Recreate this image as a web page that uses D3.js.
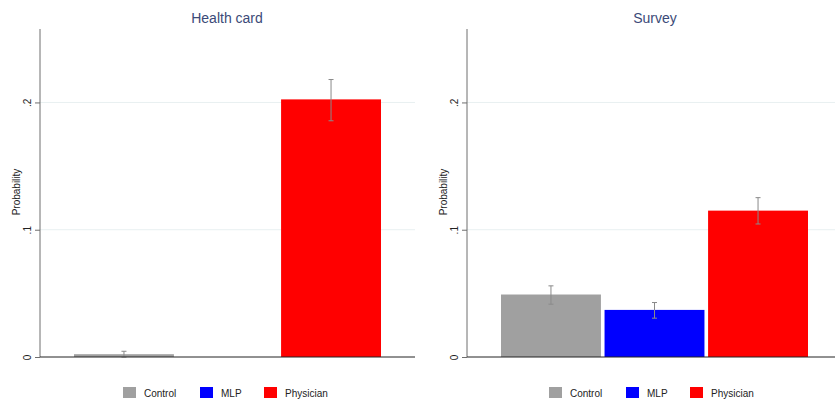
<!DOCTYPE html>
<html><head><meta charset="utf-8">
<script src="https://cdn.jsdelivr.net/npm/d3@7"></script>
<style>body{margin:0;background:#fff}svg{display:block}text{font-family:"Liberation Sans",Arial,sans-serif}</style>
</head><body><svg id="c" width="835" height="401"></svg>
<script>
const panels = ["Health card", "Survey"];
const groups = ["Control", "MLP", "Physician"];
const colors = ["#a0a0a0", "#0000ff", "#ff0000"];
// values per panel (null = not shown)
const healthValues = [0.0022, null, 0.2024];
const healthLow = [0.0, null, 0.1856];
const healthHigh = [0.0045, null, 0.2180];
const surveyValues = [0.0491, 0.0370, 0.1150];
const surveyLow = [0.0415, 0.0305, 0.1045];
const surveyHigh = [0.0559, 0.0428, 0.1252];
const yTicks = [0, 0.1, 0.2];
const yTickLabels = ["0", ".1", ".2"];

const svg = d3.select("#c");
const y = d3.scaleLinear().domain([0, 0.2577]).range([357, 29]);
const panelX = [40, 467];
const panelW = [375, 368];
const data = [
  {v: healthValues, lo: healthLow, hi: healthHigh},
  {v: surveyValues, lo: surveyLow, hi: surveyHigh}
];

panels.forEach((title, pi) => {
  const x0 = panelX[pi];
  const g = svg.append("g").attr("transform", `translate(${x0},0)`);
  const x = d3.scaleBand().domain(groups).range([34, 341]).paddingInner(0.035).paddingOuter(0);
  // gridlines
  g.selectAll("line.grid").data(yTicks.slice(1)).join("line")
    .attr("x1", 0).attr("x2", panelW[pi]).attr("y1", d => y(d)).attr("y2", d => y(d))
    .attr("stroke", "#e8f0f1").attr("stroke-width", 1);
  // bars
  const d = data[pi];
  const rows = groups.map((k, i) => ({k, i, v: d.v[i], lo: d.lo[i], hi: d.hi[i]})).filter(r => r.v != null);
  g.selectAll("rect.bar").data(rows).join("rect")
    .attr("x", r => x(r.k)).attr("width", x.bandwidth())
    .attr("y", r => y(r.v)).attr("height", r => y(0) - y(r.v))
    .attr("fill", r => colors[r.i]);
  // error bars
  const eb = g.selectAll("g.eb").data(rows).join("g").attr("stroke", "#8a8a8a").attr("stroke-width", 1);
  eb.append("line").attr("x1", r => x(r.k) + x.bandwidth()/2).attr("x2", r => x(r.k) + x.bandwidth()/2)
    .attr("y1", r => y(r.lo)).attr("y2", r => y(r.hi));
  eb.append("line").attr("x1", r => x(r.k) + x.bandwidth()/2 - 2.5).attr("x2", r => x(r.k) + x.bandwidth()/2 + 2.5)
    .attr("y1", r => y(r.hi)).attr("y2", r => y(r.hi));
  eb.append("line").attr("x1", r => x(r.k) + x.bandwidth()/2 - 2.5).attr("x2", r => x(r.k) + x.bandwidth()/2 + 2.5)
    .attr("y1", r => y(r.lo)).attr("y2", r => y(r.lo));
  // y axis
  const ax = g.append("g").call(d3.axisLeft(y).tickValues(yTicks).tickFormat((t, i) => yTickLabels[i]).tickSize(5).tickPadding(4));
  ax.select(".domain").attr("stroke", "#6e6e6e").attr("d", `M0,${y(0)}V${y.range()[1]}`);
  ax.selectAll(".tick line").attr("stroke", "#6e6e6e");
  ax.selectAll(".tick text").attr("font-size", 10).attr("fill", "#222")
    .attr("transform", "rotate(-90)").attr("text-anchor", "middle")
    .attr("x", 0).attr("dy", "0").attr("y", -9);
  // baseline
  g.append("line").attr("x1", 0).attr("x2", panelW[pi]).attr("y1", y(0)).attr("y2", y(0))
    .attr("stroke", "#222").attr("stroke-width", 1);
  // y label
  g.append("text").attr("transform", `translate(-20.5,192) rotate(-90)`).attr("text-anchor", "middle")
    .attr("font-size", 10).attr("fill", "#222").text("Probability");
  // title
  g.append("text").attr("x", pi === 0 ? 187 : 188).attr("y", 23).attr("text-anchor", "middle")
    .attr("font-size", 14).attr("fill", "#3b4a78").text(title);
  // legend
  const lx = [83, 160, 224];
  const lg = g.selectAll("g.leg").data(groups).join("g").attr("transform", (k, i) => `translate(${lx[i] + (pi ? -1 : 0)},387)`);
  lg.append("rect").attr("width", 13).attr("height", 11).attr("fill", (k, i) => colors[i]);
  lg.append("text").attr("x", 21).attr("y", 9.5).attr("font-size", 10).attr("fill", "#222").text(k => k);
});
</script></body></html>
